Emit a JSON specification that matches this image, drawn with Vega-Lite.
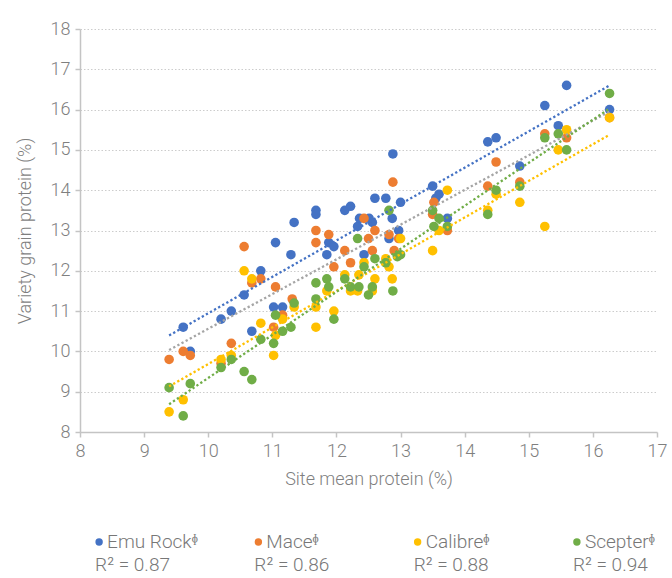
{
  "$schema": "https://vega.github.io/schema/vega-lite/v6.json",
  "padding": {"left": 16, "top": 20, "right": 4, "bottom": 0},
  "background": "white",
  "spacing": 39,
  "config": {
    "view": {"stroke": null},
    "font": "Roboto",
    "axis": {
      "labelFont": "Roboto", "titleFont": "Roboto",
      "labelFontSize": 18, "titleFontSize": 18,
      "labelFontWeight": 300, "titleFontWeight": 300,
      "labelColor": "#7f7f7f", "titleColor": "#7f7f7f",
      "domainColor": "#c4c4c4", "domainWidth": 1.5,
      "tickColor": "#c4c4c4", "tickWidth": 1.5, "tickSize": 5,
      "labelFlush": false, "labelOverlap": false
    }
  },
  "resolve": {"scale": {"color": "independent"}},
  "datasets": {
    "pts": [
      {"variety":"Emu Rock","site_mean":9.61,"grain":10.6},{"variety":"Emu Rock","site_mean":9.72,"grain":10.0},{"variety":"Emu Rock","site_mean":10.2,"grain":10.8},{"variety":"Emu Rock","site_mean":10.36,"grain":11.0},{"variety":"Emu Rock","site_mean":10.56,"grain":11.4},{"variety":"Emu Rock","site_mean":10.68,"grain":10.5},{"variety":"Emu Rock","site_mean":10.82,"grain":12.0},{"variety":"Emu Rock","site_mean":11.02,"grain":11.1},{"variety":"Emu Rock","site_mean":11.05,"grain":12.7},{"variety":"Emu Rock","site_mean":11.16,"grain":11.1},{"variety":"Emu Rock","site_mean":11.29,"grain":12.4},{"variety":"Emu Rock","site_mean":11.34,"grain":13.2},{"variety":"Emu Rock","site_mean":11.68,"grain":13.5},{"variety":"Emu Rock","site_mean":11.68,"grain":13.4},{"variety":"Emu Rock","site_mean":11.85,"grain":12.4},{"variety":"Emu Rock","site_mean":11.88,"grain":12.7},{"variety":"Emu Rock","site_mean":11.96,"grain":12.6},{"variety":"Emu Rock","site_mean":12.13,"grain":13.5},{"variety":"Emu Rock","site_mean":12.22,"grain":13.6},{"variety":"Emu Rock","site_mean":12.33,"grain":13.1},{"variety":"Emu Rock","site_mean":12.36,"grain":13.3},{"variety":"Emu Rock","site_mean":12.43,"grain":12.4},{"variety":"Emu Rock","site_mean":12.51,"grain":13.3},{"variety":"Emu Rock","site_mean":12.56,"grain":13.2},{"variety":"Emu Rock","site_mean":12.6,"grain":13.8},{"variety":"Emu Rock","site_mean":12.77,"grain":13.8},{"variety":"Emu Rock","site_mean":12.82,"grain":12.8},{"variety":"Emu Rock","site_mean":12.87,"grain":13.3},{"variety":"Emu Rock","site_mean":12.88,"grain":14.9},{"variety":"Emu Rock","site_mean":12.97,"grain":13.0},{"variety":"Emu Rock","site_mean":13.0,"grain":13.7},{"variety":"Emu Rock","site_mean":13.5,"grain":14.1},{"variety":"Emu Rock","site_mean":13.55,"grain":13.8},{"variety":"Emu Rock","site_mean":13.6,"grain":13.9},{"variety":"Emu Rock","site_mean":13.73,"grain":13.3},{"variety":"Emu Rock","site_mean":14.36,"grain":15.2},{"variety":"Emu Rock","site_mean":14.49,"grain":15.3},{"variety":"Emu Rock","site_mean":14.86,"grain":14.6},{"variety":"Emu Rock","site_mean":15.25,"grain":16.1},{"variety":"Emu Rock","site_mean":15.46,"grain":15.6},{"variety":"Emu Rock","site_mean":15.59,"grain":16.6},{"variety":"Emu Rock","site_mean":16.26,"grain":16.0},
      {"variety":"Mace","site_mean":9.39,"grain":9.8},{"variety":"Mace","site_mean":9.61,"grain":10.0},{"variety":"Mace","site_mean":9.72,"grain":9.9},{"variety":"Mace","site_mean":10.2,"grain":9.7},{"variety":"Mace","site_mean":10.36,"grain":10.2},{"variety":"Mace","site_mean":10.56,"grain":12.6},{"variety":"Mace","site_mean":10.68,"grain":11.7},{"variety":"Mace","site_mean":10.82,"grain":11.8},{"variety":"Mace","site_mean":11.02,"grain":10.6},{"variety":"Mace","site_mean":11.05,"grain":11.6},{"variety":"Mace","site_mean":11.16,"grain":10.9},{"variety":"Mace","site_mean":11.31,"grain":11.3},{"variety":"Mace","site_mean":11.68,"grain":13.0},{"variety":"Mace","site_mean":11.68,"grain":12.7},{"variety":"Mace","site_mean":11.88,"grain":12.9},{"variety":"Mace","site_mean":11.96,"grain":12.1},{"variety":"Mace","site_mean":12.13,"grain":12.5},{"variety":"Mace","site_mean":12.22,"grain":12.2},{"variety":"Mace","site_mean":12.43,"grain":13.3},{"variety":"Mace","site_mean":12.5,"grain":12.8},{"variety":"Mace","site_mean":12.56,"grain":12.5},{"variety":"Mace","site_mean":12.6,"grain":13.0},{"variety":"Mace","site_mean":12.82,"grain":12.9},{"variety":"Mace","site_mean":12.88,"grain":14.2},{"variety":"Mace","site_mean":12.9,"grain":12.5},{"variety":"Mace","site_mean":12.97,"grain":12.8},{"variety":"Mace","site_mean":13.5,"grain":13.4},{"variety":"Mace","site_mean":13.52,"grain":13.7},{"variety":"Mace","site_mean":13.73,"grain":13.0},{"variety":"Mace","site_mean":14.36,"grain":14.1},{"variety":"Mace","site_mean":14.49,"grain":14.7},{"variety":"Mace","site_mean":14.86,"grain":14.2},{"variety":"Mace","site_mean":15.25,"grain":15.4},{"variety":"Mace","site_mean":15.59,"grain":15.3},{"variety":"Mace","site_mean":16.26,"grain":15.8},
      {"variety":"Calibre","site_mean":9.39,"grain":8.5},{"variety":"Calibre","site_mean":9.61,"grain":8.8},{"variety":"Calibre","site_mean":10.2,"grain":9.8},{"variety":"Calibre","site_mean":10.36,"grain":9.9},{"variety":"Calibre","site_mean":10.56,"grain":12.0},{"variety":"Calibre","site_mean":10.68,"grain":11.8},{"variety":"Calibre","site_mean":10.82,"grain":10.7},{"variety":"Calibre","site_mean":11.02,"grain":9.9},{"variety":"Calibre","site_mean":11.05,"grain":10.4},{"variety":"Calibre","site_mean":11.16,"grain":10.8},{"variety":"Calibre","site_mean":11.34,"grain":11.1},{"variety":"Calibre","site_mean":11.68,"grain":11.1},{"variety":"Calibre","site_mean":11.68,"grain":10.6},{"variety":"Calibre","site_mean":11.85,"grain":11.5},{"variety":"Calibre","site_mean":11.96,"grain":11.0},{"variety":"Calibre","site_mean":12.13,"grain":11.9},{"variety":"Calibre","site_mean":12.22,"grain":11.5},{"variety":"Calibre","site_mean":12.35,"grain":11.9},{"variety":"Calibre","site_mean":12.33,"grain":11.5},{"variety":"Calibre","site_mean":12.43,"grain":12.2},{"variety":"Calibre","site_mean":12.56,"grain":11.5},{"variety":"Calibre","site_mean":12.6,"grain":11.8},{"variety":"Calibre","site_mean":12.77,"grain":12.3},{"variety":"Calibre","site_mean":12.82,"grain":12.1},{"variety":"Calibre","site_mean":12.87,"grain":11.8},{"variety":"Calibre","site_mean":13.0,"grain":12.8},{"variety":"Calibre","site_mean":13.5,"grain":12.5},{"variety":"Calibre","site_mean":13.6,"grain":13.0},{"variety":"Calibre","site_mean":13.73,"grain":14.0},{"variety":"Calibre","site_mean":14.36,"grain":13.5},{"variety":"Calibre","site_mean":14.49,"grain":13.9},{"variety":"Calibre","site_mean":14.86,"grain":13.7},{"variety":"Calibre","site_mean":15.25,"grain":13.1},{"variety":"Calibre","site_mean":15.46,"grain":15.0},{"variety":"Calibre","site_mean":15.59,"grain":15.5},{"variety":"Calibre","site_mean":16.26,"grain":15.8},
      {"variety":"Scepter","site_mean":9.39,"grain":9.1},{"variety":"Scepter","site_mean":9.61,"grain":8.4},{"variety":"Scepter","site_mean":9.72,"grain":9.2},{"variety":"Scepter","site_mean":10.2,"grain":9.6},{"variety":"Scepter","site_mean":10.36,"grain":9.8},{"variety":"Scepter","site_mean":10.56,"grain":9.5},{"variety":"Scepter","site_mean":10.68,"grain":9.3},{"variety":"Scepter","site_mean":10.82,"grain":10.3},{"variety":"Scepter","site_mean":11.02,"grain":10.2},{"variety":"Scepter","site_mean":11.05,"grain":10.9},{"variety":"Scepter","site_mean":11.16,"grain":10.5},{"variety":"Scepter","site_mean":11.29,"grain":10.6},{"variety":"Scepter","site_mean":11.34,"grain":11.2},{"variety":"Scepter","site_mean":11.68,"grain":11.7},{"variety":"Scepter","site_mean":11.68,"grain":11.3},{"variety":"Scepter","site_mean":11.85,"grain":11.8},{"variety":"Scepter","site_mean":11.88,"grain":11.6},{"variety":"Scepter","site_mean":11.96,"grain":10.8},{"variety":"Scepter","site_mean":12.13,"grain":11.8},{"variety":"Scepter","site_mean":12.22,"grain":11.6},{"variety":"Scepter","site_mean":12.33,"grain":12.8},{"variety":"Scepter","site_mean":12.35,"grain":11.6},{"variety":"Scepter","site_mean":12.43,"grain":12.1},{"variety":"Scepter","site_mean":12.5,"grain":11.4},{"variety":"Scepter","site_mean":12.56,"grain":11.6},{"variety":"Scepter","site_mean":12.6,"grain":12.3},{"variety":"Scepter","site_mean":12.77,"grain":12.2},{"variety":"Scepter","site_mean":12.82,"grain":13.5},{"variety":"Scepter","site_mean":12.88,"grain":11.5},{"variety":"Scepter","site_mean":12.95,"grain":12.35},{"variety":"Scepter","site_mean":13.0,"grain":12.4},{"variety":"Scepter","site_mean":13.5,"grain":13.5},{"variety":"Scepter","site_mean":13.52,"grain":13.1},{"variety":"Scepter","site_mean":13.6,"grain":13.3},{"variety":"Scepter","site_mean":13.73,"grain":13.1},{"variety":"Scepter","site_mean":14.36,"grain":13.4},{"variety":"Scepter","site_mean":14.49,"grain":14.0},{"variety":"Scepter","site_mean":14.86,"grain":14.1},{"variety":"Scepter","site_mean":15.25,"grain":15.3},{"variety":"Scepter","site_mean":15.46,"grain":15.4},{"variety":"Scepter","site_mean":15.59,"grain":15.0},{"variety":"Scepter","site_mean":16.26,"grain":16.4}
    ],
    "leg": [
      {"variety":"Emu Rock","name":"Emu Rockᶲ","r2":"R² = 0.87"},
      {"variety":"Mace","name":"Maceᶲ","r2":"R² = 0.86"},
      {"variety":"Calibre","name":"Calibreᶲ","r2":"R² = 0.88"},
      {"variety":"Scepter","name":"Scepterᶲ","r2":"R² = 0.94"}
    ]
  },
  "vconcat": [
    {
      "width": 577,
      "height": 403,
      "data": {"name": "pts"},
      "resolve": {"scale": {"color": "independent"}},
      "layer": [
        {
          "mark": {"type": "circle", "size": 92, "opacity": 1},
          "encoding": {
            "x": {"field": "site_mean", "type": "quantitative", "title": "Site mean protein (%)",
              "scale": {"domain": [8, 17], "nice": false},
              "axis": {"values": [8,9,10,11,12,13,14,15,16,17], "format": "d", "grid": false, "labelPadding": 5, "titlePadding": 10}},
            "y": {"field": "grain", "type": "quantitative", "title": "Variety grain protein (%)",
              "scale": {"domain": [8, 18], "nice": false},
              "axis": {
                "tickCount": 50,
                "format": "d",
                "labelExpr": "abs(datum.value - round(datum.value)) < 0.001 ? format(datum.value, 'd') : ''",
                "tickOpacity": {"condition": {"test": "abs(datum.value - round(datum.value)) < 0.001", "value": 1}, "value": 0},
                "grid": true, "gridDash": [1.5, 2], "gridWidth": 1,
                "gridColor": {"condition": {"test": "abs(datum.value - round(datum.value)) < 0.001", "value": "#cccccc"}, "value": "#dedede"},
                "labelPadding": 5, "titlePadding": 16}},
            "color": {"field": "variety", "type": "nominal",
              "scale": {"domain": ["Emu Rock", "Mace", "Calibre", "Scepter"], "range": ["#4472C4", "#ED7D31", "#FFC000", "#70AD47"]},
              "legend": null}
          }
        },
        {
          "transform": [{"regression": "grain", "on": "site_mean", "groupby": ["variety"], "extent": [9.39, 16.26]}],
          "mark": {"type": "line", "strokeWidth": 2.3, "strokeDash": [2.3, 2.4]},
          "encoding": {
            "x": {"field": "site_mean", "type": "quantitative"},
            "y": {"field": "grain", "type": "quantitative"},
            "color": {"field": "variety", "type": "nominal",
              "scale": {"domain": ["Emu Rock", "Mace", "Calibre", "Scepter"], "range": ["#4472C4", "#A5A5A5", "#FFC000", "#70AD47"]},
              "legend": null}
          }
        }
      ]
    },
    {
      "width": 516,
      "height": 30,
      "data": {"name": "leg"},
      "encoding": {
        "x": {"field": "variety", "type": "nominal", "sort": ["Emu Rock", "Mace", "Calibre", "Scepter"],
          "scale": {"type": "point", "padding": 0.12}, "axis": null}
      },
      "layer": [
        {
          "mark": {"type": "circle", "size": 55, "opacity": 1},
          "encoding": {
            "color": {"field": "variety", "type": "nominal",
              "scale": {"domain": ["Emu Rock", "Mace", "Calibre", "Scepter"], "range": ["#4472C4", "#ED7D31", "#FFC000", "#70AD47"]},
              "legend": null}
          }
        },
        {
          "mark": {"type": "text", "align": "left", "baseline": "middle", "dx": 8, "fontSize": 19, "font": "Roboto", "fontWeight": 300, "color": "#777777"},
          "encoding": {"text": {"field": "name"}}
        },
        {
          "mark": {"type": "text", "align": "left", "baseline": "middle", "dx": -4, "dy": 23, "fontSize": 19, "font": "Roboto", "fontWeight": 300, "color": "#777777"},
          "encoding": {"text": {"field": "r2"}}
        }
      ]
    }
  ]
}
